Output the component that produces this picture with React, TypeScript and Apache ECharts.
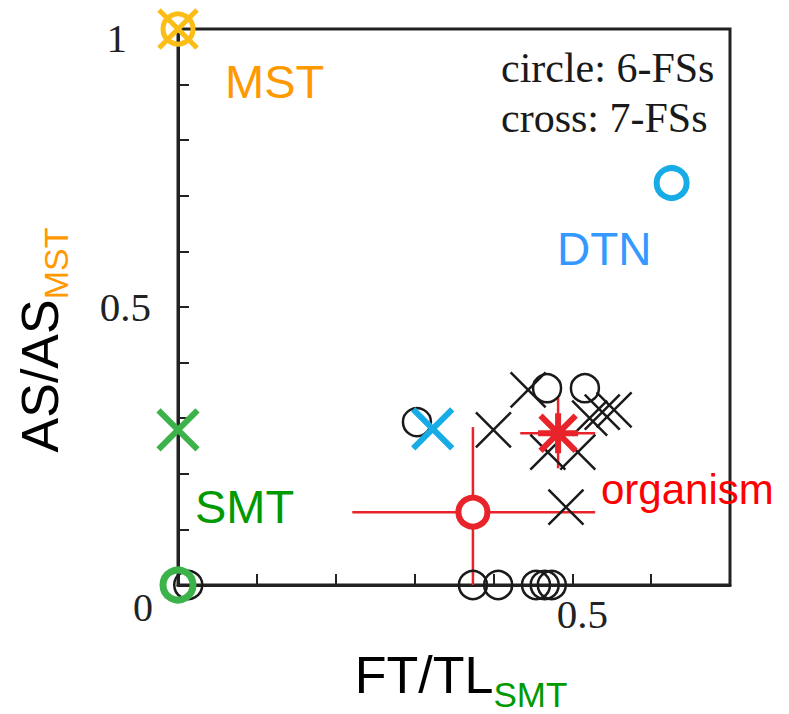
import React, { useEffect, useRef } from "react";
import * as echarts from "echarts";

// 6-FS results (black circles)
const circle6X = [0.013, 0.303, 0.468, 0.516, 0.374, 0.406, 0.454, 0.465, 0.474];
const circle6Y = [0, 0.293, 0.354, 0.354, 0, 0, 0, 0, 0];
// 7-FS results (black crosses)
const cross7X = [0.4, 0.444, 0.469, 0.507, 0.522, 0.538, 0.553, 0.492];
const cross7Y = [0.279, 0.351, 0.239, 0.239, 0.3, 0.311, 0.315, 0.14];
// reference algorithms: [x, y]
const mstCircle = [0, 1];
const mstCross = [0, 1];
const smtCircle = [0, 0];
const smtCross = [0, 0.279];
const dtnCircle = [0.626, 0.723];
const dtnCross = [0.323, 0.281];
// organism means with ranges: [x, y, xLow, xHigh, yLow, yHigh]
const organism6 = [0.374, 0.131, 0.221, 0.529, 0, 0.284];
const organism7 = [0.482, 0.273, 0.434, 0.529, 0.21, 0.338];

const xTickLabels: Record<string, string> = { "0": "{z|0}", "0.5": "{h|0.5}" };
const yTickLabels: Record<string, string> = { "1": "{o|1}", "0.5": "{h|0.5}" };

const BLACK = "#1a1a1a";
const RED = "#e8242a";
const ORANGE = "#fbbd16";
const BLUE = "#17ace6";
const GREEN = "#3cb34a";
const CROSS = "path://M0 0L10 10M10 0L0 10";
const STAR = "path://M0 5L10 5M5 0L5 10M0.6 0.6L9.4 9.4M9.4 0.6L0.6 9.4";

const serif = "Liberation Serif";
const sans = "Liberation Sans";

function zip(xs: number[], ys: number[]) {
  return xs.map((x, i) => [x, ys[i]]);
}

function key(v: number) {
  return String(Math.round(v * 10) / 10);
}

export default function App() {
  const ref = useRef<HTMLDivElement>(null);
  useEffect(() => {
    if (!ref.current) return;
    const chart = echarts.init(ref.current, undefined, { renderer: "svg" });
    const open = (color: string, bw: number, fill = "transparent") => ({
      color: fill,
      borderColor: color,
      borderWidth: bw,
      opacity: 1,
    });
    chart.setOption({
      animation: false,
      backgroundColor: "#ffffff",
      grid: {
        left: 178,
        right: 59,
        top: 29,
        bottom: 129,
        containLabel: false,
        outerBoundsMode: "none",
        show: true,
        borderColor: "#222",
        borderWidth: 3,
      },
      xAxis: {
        type: "value",
        min: 0,
        max: 0.7,
        interval: 0.1,
        splitLine: { show: false },
        axisLine: { show: true, onZero: false, lineStyle: { color: "#222", width: 3 } },
        axisTick: { show: true, inside: true, length: 11, lineStyle: { color: "#222", width: 2 } },
        axisLabel: {
          margin: 2,
          formatter: (v: number) => xTickLabels[key(v)] || "",
          rich: {
            z: { fontFamily: serif, fontSize: 40, color: "#222", padding: [0, 70, 0, 0] },
            h: { fontFamily: serif, fontSize: 41, color: "#222", padding: [6, 0, 0, 20] },
          },
        },
        name: "{a|FT/TL}{b|SMT}",
        nameLocation: "middle",
        nameGap: 52,
        nameTextStyle: {
          rich: {
            a: { fontFamily: sans, fontSize: 52, color: "#000", padding: [0, 0, 0, 14] },
            b: { fontFamily: sans, fontSize: 35, color: "#009900", padding: [40, 0, 0, 0] },
          },
        },
      },
      yAxis: {
        type: "value",
        min: 0,
        max: 1,
        interval: 0.1,
        splitLine: { show: false },
        axisLine: { show: true, onZero: false, lineStyle: { color: "#222", width: 3 } },
        axisTick: { show: true, inside: true, length: 11, lineStyle: { color: "#222", width: 2 } },
        axisLabel: {
          margin: 27,
          formatter: (v: number) => yTickLabels[key(v)] || "",
          rich: {
            o: { fontFamily: serif, fontSize: 41, color: "#222", padding: [18, 24, 0, 0] },
            h: { fontFamily: serif, fontSize: 41, color: "#222" },
          },
        },
        name: "{a|AS/AS}{b|MST}",
        nameLocation: "middle",
        nameRotate: 90,
        nameGap: 105,
        nameTextStyle: {
          rich: {
            a: { fontFamily: sans, fontSize: 52, color: "#000" },
            b: {
              fontFamily: sans,
              fontSize: 34,
              color: "#ff9900",
              padding: [32, 66, 0, 0],
            },
          },
        },
      },
      series: [
        {
          type: "custom",
          z: 1,
          clip: false,
          encode: { x: 0, y: 1 },
          data: [organism6, organism7],
          renderItem: (params: any, api: any) => {
            const x = api.value(0);
            const y = api.value(1);
            const a = api.coord([api.value(2), y]);
            const b = api.coord([api.value(3), y]);
            const c = api.coord([x, api.value(4)]);
            const d = api.coord([x, api.value(5)]);
            return {
              type: "group",
              children: [
                { type: "line", shape: { x1: a[0], y1: a[1], x2: b[0], y2: b[1] }, style: { stroke: RED, lineWidth: 2.5 } },
                { type: "line", shape: { x1: c[0], y1: c[1], x2: d[0], y2: d[1] }, style: { stroke: RED, lineWidth: 2.5 } },
              ],
            };
          },
        },
        {
          type: "scatter",
          clip: false,
          z: 3,
          symbol: "circle",
          symbolSize: 28,
          itemStyle: open(BLACK, 2.5),
          data: zip(circle6X, circle6Y),
        },
        {
          type: "scatter",
          clip: false,
          z: 3,
          symbol: CROSS,
          symbolSize: 35,
          itemStyle: open(BLACK, 2.5),
          data: zip(cross7X, cross7Y),
        },
        {
          type: "scatter",
          clip: false,
          z: 4,
          symbol: "circle",
          symbolSize: 29,
          itemStyle: open(RED, 6, "#ffffff"),
          data: [organism6.slice(0, 2)],
        },
        {
          type: "scatter",
          clip: false,
          z: 4,
          symbol: STAR,
          symbolSize: 40,
          itemStyle: open(RED, 6),
          data: [organism7.slice(0, 2)],
        },
        {
          type: "scatter",
          clip: false,
          z: 4,
          symbol: "circle",
          symbolSize: 30,
          itemStyle: open(ORANGE, 5),
          data: [mstCircle],
        },
        {
          type: "scatter",
          clip: false,
          z: 4,
          symbol: CROSS,
          symbolSize: 38,
          itemStyle: open(ORANGE, 5),
          data: [mstCross],
        },
        {
          type: "scatter",
          clip: false,
          z: 4,
          symbol: "circle",
          symbolSize: 30,
          itemStyle: open(GREEN, 7),
          data: [smtCircle],
        },
        {
          type: "scatter",
          clip: false,
          z: 4,
          symbol: CROSS,
          symbolSize: 39,
          itemStyle: open(GREEN, 6),
          data: [smtCross],
        },
        {
          type: "scatter",
          clip: false,
          z: 4,
          symbol: "circle",
          symbolSize: 30,
          itemStyle: open(BLUE, 6, "#ffffff"),
          data: [dtnCircle],
        },
        {
          type: "scatter",
          clip: false,
          z: 4,
          symbol: CROSS,
          symbolSize: 39,
          itemStyle: open(BLUE, 6),
          data: [dtnCross],
        },
      ],
      graphic: [
        {
          type: "text",
          left: 501,
          top: 43,
          style: {
            text: "circle: 6-FSs\ncross: 7-FSs",
            fontFamily: serif,
            fontSize: 42,
            lineHeight: 50,
            fill: "#1a1a1a",
          },
        },
        { type: "text", x: 225, y: 81, style: { text: "MST", fontFamily: sans, fontSize: 47, fill: "#ff9900", verticalAlign: "middle" } },
        { type: "text", x: 557, y: 249, style: { text: "DTN", fontFamily: sans, fontSize: 46, fill: "#3399ff", verticalAlign: "middle" } },
        { type: "text", x: 195, y: 506, style: { text: "SMT", fontFamily: sans, fontSize: 47, fill: "#009900", verticalAlign: "middle" } },
        { type: "text", x: 601, y: 489, style: { text: "organism", fontFamily: sans, fontSize: 42, fill: "#ff0000", verticalAlign: "middle" } },
      ],
    });
    return () => chart.dispose();
  }, []);
  return (
    <div
      ref={ref}
      style={{ position: "fixed", left: 0, top: 0, width: 789, height: 714, background: "#fff" }}
    />
  );
}
